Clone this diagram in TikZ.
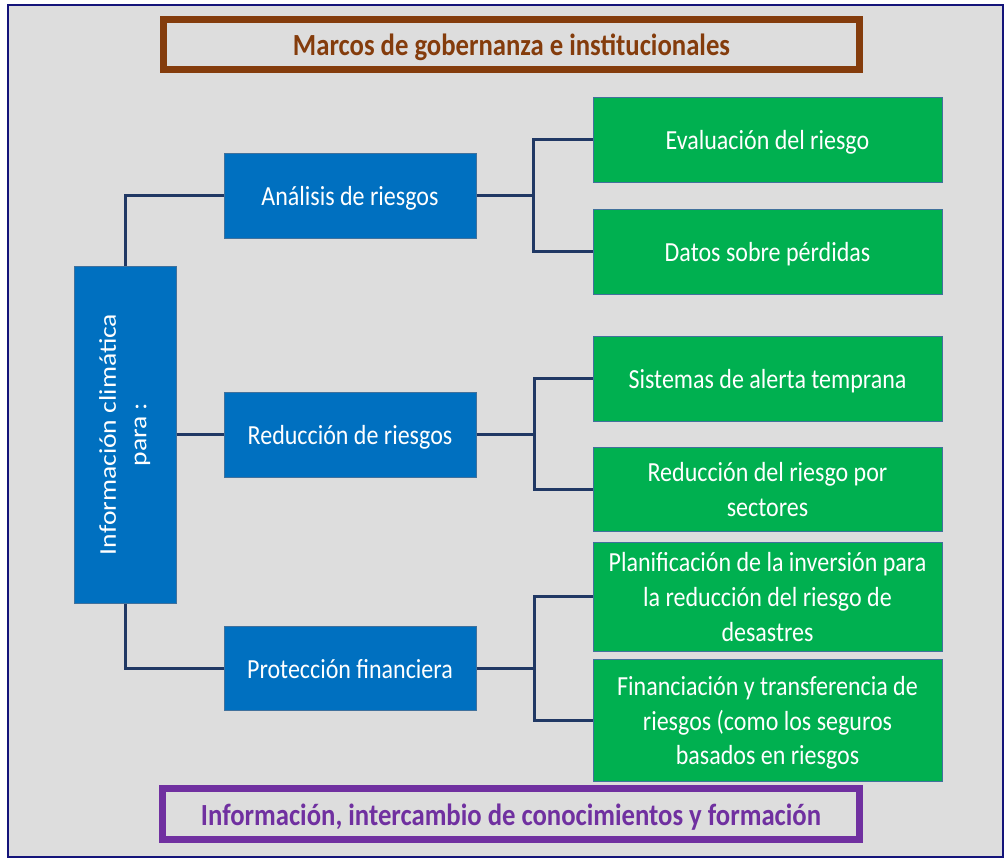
\documentclass[tikz,border=0pt]{standalone}
\usepackage{fontspec}
\setmainfont{Carlito}
\usepackage{graphicx}
\definecolor{bgc}{HTML}{DDDDDD}
\definecolor{framec}{HTML}{14147A}
\definecolor{bluec}{HTML}{0070C0}
\definecolor{greenc}{HTML}{00B050}
\definecolor{edgec}{HTML}{41719C}
\definecolor{connc}{HTML}{203864}
\definecolor{brownc}{HTML}{843C0C}
\definecolor{purplec}{HTML}{7030A0}
\newcommand{\stx}[2][3pt]{\raisebox{-#1}[\height][\depth]{\scalebox{1}[1.15]{\begin{tabular}{@{}c@{}}#2\end{tabular}}}}
\begin{document}
\begin{tikzpicture}[x=1pt,y=-1pt,
  boxtext/.style={text=white, inner sep=0pt, font=\fontsize{24}{30.4}\selectfont},
  bluebox/.style={boxtext, draw=edgec, line width=1pt, fill=bluec, minimum width=252pt},
  greenbox/.style={boxtext, draw=edgec, line width=1pt, fill=greenc, minimum width=349pt},
  band/.style={line width=7pt, fill=bgc, minimum width=696pt, minimum height=50pt, inner sep=0pt, font=\bfseries\fontsize{26.7}{30}\selectfont},
  conn/.style={draw=connc, line width=3pt}]
\useasboundingbox (0,0) rectangle (1006,859);
\fill[white] (0,0) rectangle (1006,859);
\draw[framec, line width=2pt, fill=bgc] (8,5) rectangle (1003,857);

\node[band, draw=brownc, text=brownc] (gov) at (511.5,44.5) {\stx[4pt]{Marcos de gobernanza e institucionales}};
\node[band, draw=purplec, text=purplec, minimum width=697pt, minimum height=51pt] (know) at (511,814) {\stx[5pt]{Información, intercambio de conocimientos y formación}};

\node[bluebox, minimum width=102pt, minimum height=337pt] (info) at (125,434.5) {};
\node[boxtext] (infotext) at (info.center) {\rotatebox{90}{\scalebox{1.15}[1]{\begin{tabular}{@{}c@{}}Información climática\\para :\end{tabular}}}};

\node[bluebox, minimum height=85pt] (ana) at (350,195.5) {\stx{Análisis de riesgos}};
\node[bluebox, minimum height=85pt] (red) at (350,434.5) {\stx{Reducción de riesgos}};
\node[bluebox, minimum height=84pt] (prot) at (350,668) {\stx{Protección financiera}};

\node[greenbox, minimum height=85pt] (eval) at (767.5,139.5) {\stx{Evaluación del riesgo}};
\node[greenbox, minimum height=85pt] (datos) at (767.5,251.5) {\stx{Datos sobre pérdidas}};
\node[greenbox, minimum height=85pt] (sist) at (767.5,378.5) {\stx{Sistemas de alerta temprana}};
\node[greenbox, minimum height=84pt] (redsec) at (767.5,489) {\stx{Reducción del riesgo por\\sectores}};
\node[greenbox, minimum height=109pt] (plan) at (767.5,596.5) {\stx{Planificación de la inversión para\\la reducción del riesgo de\\desastres}};
\node[greenbox, minimum height=122pt] (fin) at (767.5,720) {\stx{Financiación y transferencia de\\riesgos (como los seguros\\basados en riesgos}};

\coordinate (j1) at (533,195.5);
\coordinate (j2) at (534,434.5);
\coordinate (j3) at (534,668);

\draw[conn] (info.north) |- (ana.west);
\draw[conn] (info.south) |- (prot.west);
\draw[conn] (info.east) -- (red.west);

\draw[conn] (ana.east) -- (j1);
\draw[conn] (eval.west) -| (j1) |- (datos.west);
\draw[conn] (red.east) -- (j2);
\draw[conn] (sist.west) -| (j2) |- (redsec.west);
\draw[conn] (prot.east) -- (j3);
\draw[conn] (plan.west) -| (j3) |- (fin.west);
\end{tikzpicture}
\end{document}
